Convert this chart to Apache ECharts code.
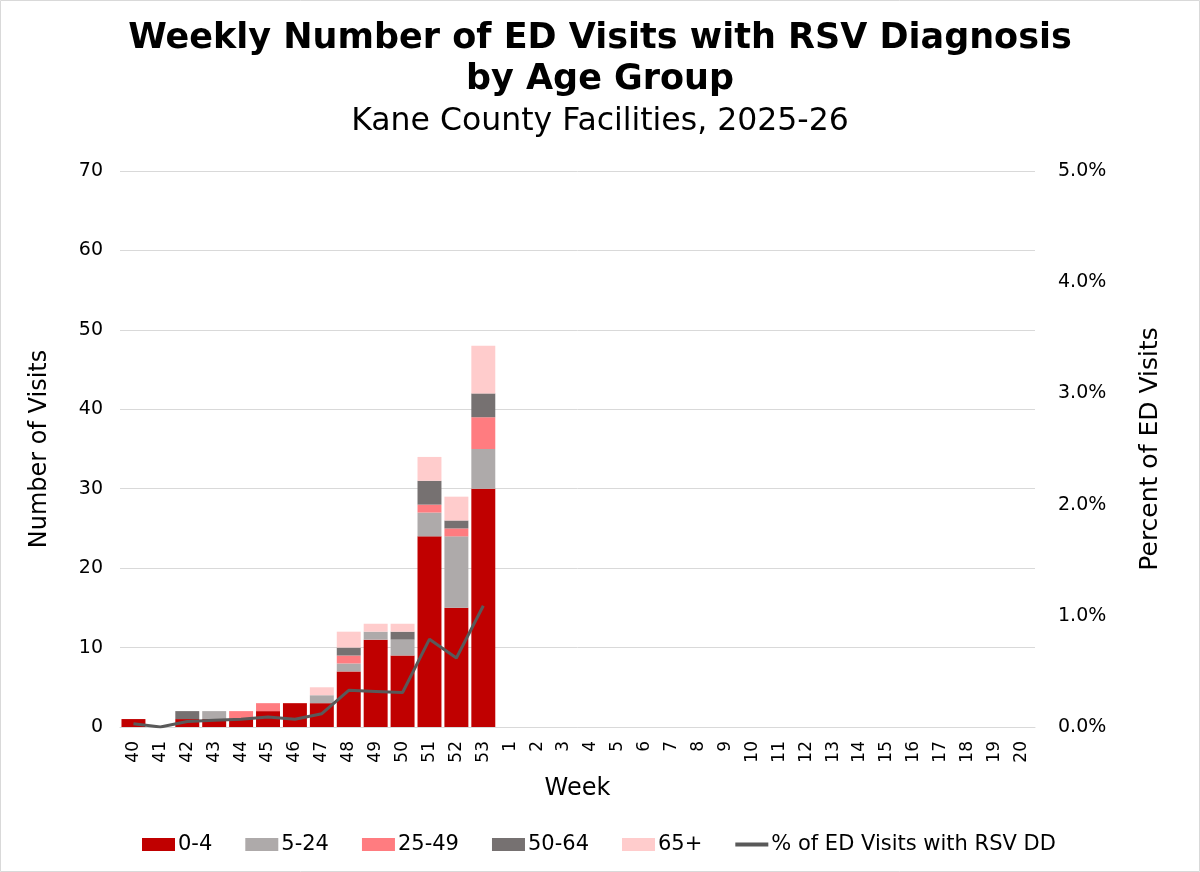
<!DOCTYPE html>
<html>
<head>
<meta charset="utf-8">
<script src="https://cdn.jsdelivr.net/npm/echarts@6/dist/echarts.min.js"></script>
<style>
  html,body{margin:0;padding:0;background:#fff;}
  #chart{width:1200px;height:872px;}
</style>
</head>
<body>
<div id="chart"></div>
<script>
'use strict';

/* ---------- data ---------- */
const WEEKS = ['40','41','42','43','44','45','46','47','48','49','50','51','52','53',
  '1','2','3','4','5','6','7','8','9','10','11','12','13','14','15','16','17','18','19','20'];
const AGE_0_4   = [1,0,1,1,1,2,3,3,7,11,9,24,15,30];
const AGE_5_24  = [0,0,0,1,0,0,0,1,1,1,2,3,9,5];
const AGE_25_49 = [0,0,0,0,1,1,0,0,1,0,0,1,1,4];
const AGE_50_64 = [0,0,1,0,0,0,0,0,1,0,1,3,1,3];
const AGE_65P   = [0,0,0,0,0,0,0,1,2,1,1,3,3,6];
const PCT_RSV   = [0.0003,0.0000,0.0005,0.0006,0.0007,0.0009,0.0007,0.0012,0.0033,0.0032,0.0031,0.0079,0.0062,0.0109];

/* ---------- styles ---------- */
const C = {
  a04:'#C00000', a524:'#AEAAAA', a2549:'#FF7C80', a5064:'#767171', a65:'#FFCCCC',
  line:'#595959', grid:'#D9D9D9', text:'#000000',
  font:'"DejaVu Sans",Verdana,sans-serif',
};

const pad = arr => WEEKS.map((_,i)=> i<arr.length ? arr[i] : null);

function bar(name,data,color){
  return {name,type:'bar',stack:'visits',data:pad(data),barCategoryGap:'11%',
    itemStyle:{color},emphasis:{disabled:true}};
}

const chart = echarts.init(document.getElementById('chart'),null,{renderer:'canvas'});
chart.setOption({
  animation:false,
  textStyle:{fontFamily:C.font},
  graphic:[{type:'rect',silent:true,z:-1,shape:{x:0.5,y:0.5,width:1199,height:871},
    style:{fill:null,stroke:C.grid,lineWidth:1}}],
  title:[
    {text:'Weekly Number of ED Visits with RSV Diagnosis\nby Age Group',left:'center',top:13,
     textStyle:{fontFamily:C.font,fontWeight:'bold',fontSize:35,lineHeight:41,color:C.text}},
    {text:'Kane County Facilities, 2025-26',left:'center',top:101,
     textStyle:{fontFamily:C.font,fontWeight:'normal',fontSize:31.5,color:C.text}},
  ],
  legend:{
    bottom:12,left:137,itemGap:33,itemWidth:33,itemHeight:13,
    textStyle:{fontFamily:C.font,fontSize:21,color:C.text,padding:[0,0,0,-2]},
    data:[
      {name:'0-4',icon:'rect'},{name:'5-24',icon:'rect'},{name:'25-49',icon:'rect'},
      {name:'50-64',icon:'rect'},{name:'65+',icon:'rect'},
      {name:'% of ED Visits with RSV DD',icon:'path://M0,0h33v4h-33z'},
    ],
  },
  grid:{left:120,right:165,top:171,bottom:145,containLabel:false},
  xAxis:{
    type:'category',data:WEEKS,name:'Week',nameLocation:'middle',nameGap:50,
    nameTextStyle:{fontFamily:C.font,fontSize:24,color:C.text},
    axisLine:{lineStyle:{color:C.grid}},axisTick:{show:false},
    axisLabel:{rotate:90,fontSize:17,color:C.text,margin:14,interval:0},
  },
  yAxis:[
    {type:'value',min:0,max:70,interval:10,name:'Number of Visits',nameLocation:'middle',nameGap:68,
     nameTextStyle:{fontFamily:C.font,fontSize:24,color:C.text},
     axisLine:{show:false},axisTick:{show:false},
     axisLabel:{fontSize:19,color:C.text,margin:17},
     splitLine:{lineStyle:{color:C.grid}}},
    {type:'value',min:0,max:0.05,interval:0.01,name:'Percent of ED Visits',nameLocation:'middle',nameGap:103,
     nameRotate:90,
     nameTextStyle:{fontFamily:C.font,fontSize:25,color:C.text},
     axisLine:{show:false},axisTick:{show:false},splitLine:{show:false},
     axisLabel:{fontSize:19,color:C.text,margin:23,formatter:v=>(v*100).toFixed(1)+'%'}},
  ],
  series:[
    bar('0-4',AGE_0_4,C.a04),
    bar('5-24',AGE_5_24,C.a524),
    bar('25-49',AGE_25_49,C.a2549),
    bar('50-64',AGE_50_64,C.a5064),
    bar('65+',AGE_65P,C.a65),
    {name:'% of ED Visits with RSV DD',type:'line',yAxisIndex:1,data:pad(PCT_RSV),
     showSymbol:false,symbol:'none',connectNulls:false,z:5,
     lineStyle:{width:3,color:C.line},itemStyle:{color:C.line}},
  ],
});
</script>
</body>
</html>
